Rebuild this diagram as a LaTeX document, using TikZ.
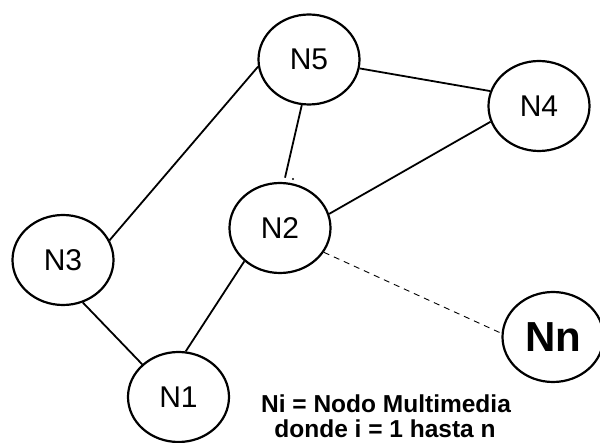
\documentclass[tikz,border=0pt]{standalone}
\usepackage{fontspec}
\setmainfont{Liberation Sans}
\usetikzlibrary{shapes.geometric}
\tikzset{
  netnode/.style={draw, ellipse, line width=2.2pt, minimum width=101pt, minimum height=90pt, inner sep=0pt, font=\fontsize{30}{30}\selectfont},
  bignode/.style={netnode, font=\bfseries\fontsize{42}{42}\selectfont},
  link/.style={line width=1.8pt},
  weaklink/.style={line width=0.9pt, dash pattern=on 6pt off 5pt},
  captext/.style={anchor=base, inner sep=0pt, font=\bfseries\fontsize{24.5}{25}\selectfont}
}
\begin{document}
\begin{tikzpicture}[x=1pt,y=-1pt]
\useasboundingbox (0,0) rectangle (600,443);
\node[netnode] (N5) at (309,59.5) {N5};
\node[netnode] (N4) at (539,106) {N4};
\node[netnode] (N2) at (280,228) {N2};
\node[netnode] (N3) at (63,260) {N3};
\node[netnode] (N1) at (178.5,397) {N1};
\node[bignode] (Nn) at (553,337) {Nn};
\draw[link] (N3.23) -- (N5.188);
\draw[link, shorten >=4.5pt] (N5.261) -- (N2.85);
\draw[link] (N5.350.5) -- (N4.163.6);
\draw[link] (N4.198) -- (N2.16.7);
\draw[link] (N2.223.4) -- (N1.81.8);
\draw[link] (N3.295) -- (N1.138);
\draw[weaklink] (N2.331) -- (Nn.176);
\fill (293,179) circle (1.2pt);
\node[captext] (cap1) at (386,413) {Ni = Nodo Multimedia};
\node[captext] (cap2) at (385,438) {donde i = 1 hasta n};
\end{tikzpicture}
\end{document}
